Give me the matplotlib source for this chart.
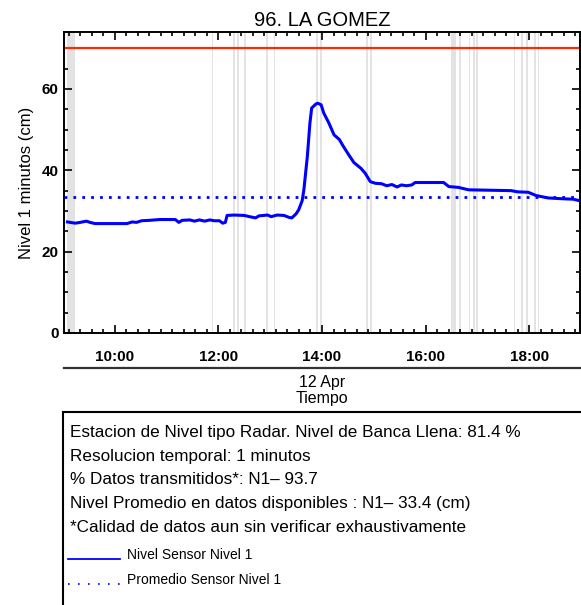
import numpy as np
import matplotlib
matplotlib.use('Agg')
import matplotlib.pyplot as plt
from matplotlib.ticker import MultipleLocator, AutoMinorLocator, FuncFormatter
from matplotlib.lines import Line2D
from matplotlib.patches import Rectangle

plt.rcParams['font.family'] = ['Liberation Sans', 'DejaVu Sans']

# nivel sensor 1 (hora, cm)
hora = ['09:05', '09:14', '09:20', '09:27', '09:31', '09:37', '09:54', '10:14', '10:20', '10:25',
        '10:31', '10:40', '10:52', '11:10', '11:14', '11:18', '11:27', '11:32', '11:38', '11:44',
        '11:50', '11:55', '12:01', '12:05', '12:08', '12:10', '12:18', '12:30', '12:36', '12:43',
        '12:47', '12:57', '13:01', '13:08', '13:16', '13:22', '13:25', '13:30', '13:33', '13:37',
        '13:39', '13:43', '13:46', '13:48', '13:53', '13:55', '13:59', '14:02', '14:08', '14:14',
        '14:20', '14:25', '14:31', '14:37', '14:45', '14:50', '14:56', '15:02', '15:09', '15:15',
        '15:21', '15:27', '15:32', '15:38', '15:44', '15:48', '16:21', '16:27', '16:38', '16:50',
        '17:39', '17:47', '17:59', '18:08', '18:22', '18:39', '18:51', '18:57']
nivel = [27.3, 27.0, 27.2, 27.5, 27.2, 26.9, 26.9, 26.9, 27.3, 27.2,
         27.6, 27.7, 27.9, 27.9, 27.2, 27.7, 27.8, 27.5, 27.8, 27.5,
         27.8, 27.6, 27.6, 27.0, 27.2, 28.9, 29.0, 28.9, 28.6, 28.3,
         28.8, 29.0, 28.6, 29.0, 28.9, 28.4, 28.3, 29.3, 30.3, 32.5,
         35.2, 43.4, 51.6, 55.3, 56.3, 56.5, 56.1, 54.1, 51.6, 48.7,
         47.6, 45.8, 43.8, 41.9, 40.5, 39.3, 37.2, 36.8, 36.7, 36.2,
         36.5, 35.9, 36.4, 36.2, 36.4, 37.0, 37.0, 36.0, 35.8, 35.2,
         35.0, 34.7, 34.6, 33.8, 33.2, 33.0, 32.9, 32.6]

promedio = 33.4
banca_llena = 70

# huecos sin datos (inicio, fin)
huecos = [('09:04', '09:14'), ('11:52', '11:54'), ('12:17', '12:19'), ('12:22', '12:24'),
          ('12:30', '12:32'), ('12:55', '12:57'), ('13:04', '13:06'), ('13:53', '13:55'),
          ('13:58', '14:00'), ('14:51', '14:53'), ('14:56', '14:58'), ('16:29', '16:35'),
          ('16:39', '16:41'), ('16:50', '16:52'), ('16:55', '16:57'), ('16:59', '17:01'),
          ('17:42', '17:44'), ('17:51', '17:53'), ('17:56', '17:59'), ('18:06', '18:08'),
          ('18:10', '18:12')]

textos = ['Estacion de Nivel tipo Radar. Nivel de Banca Llena: 81.4 %',
          'Resolucion temporal: 1 minutos',
          '% Datos transmitidos*: N1\u2013 93.7',
          'Nivel Promedio en datos disponibles : N1\u2013 33.4 (cm)',
          '*Calidad de datos aun sin verificar exhaustivamente']


def a_horas(s):
    h, m = s.split(':')
    return int(h) + int(m) / 60.0


t = np.array([a_horas(s) for s in hora])

W, H = 581, 605
fig = plt.figure(figsize=(W / 100, H / 100), dpi=100)
ax = fig.add_axes([64 / W, 1 - 333 / H, 516 / W, 301 / H])

for a, b in huecos:
    ax.axvspan(a_horas(a), a_horas(b), color='#e3e3e3', lw=0, zorder=0)

ax.axhline(banca_llena, color='#ff2a00', lw=1.6, zorder=2)
ax.axhline(promedio, color='#0000ff', lw=2.0, ls=(0, (1, 2.2)), zorder=3)
ax.plot(t, nivel, color='#0000ff', lw=2.2, zorder=4)

ax.set_xlim(a_horas('09:01'), a_horas('18:59'))
ax.set_ylim(0, 74)
ax.xaxis.set_major_locator(MultipleLocator(2))
ax.xaxis.set_minor_locator(AutoMinorLocator(9))
ax.xaxis.set_major_formatter(FuncFormatter(lambda v, p: '%d:00' % int(round(v))))
ax.yaxis.set_major_locator(MultipleLocator(20))
ax.yaxis.set_minor_locator(AutoMinorLocator(4))
ax.tick_params(which='both', direction='in', top=True, right=True, width=1.2)
ax.tick_params(which='major', length=6, labelsize=11, pad=12)
ax.tick_params(which='minor', length=3)
ax.tick_params(axis='y', pad=4)
for lab in ax.get_xticklabels() + ax.get_yticklabels():
    lab.set_fontweight('bold')
for sp in ax.spines.values():
    sp.set_linewidth(1.4)

ax.set_title('96. LA GOMEZ', fontsize=14.5, pad=4)
ax.set_ylabel('Nivel 1 minutos (cm)', fontsize=12, labelpad=5)

# eje inferior de fecha
fig.add_artist(Line2D([64 / W, 580 / W], [1 - 368 / H] * 2, color='#333333', lw=1.6))
fig.text(322 / W, 1 - 382 / H, '12 Apr', ha='center', va='center', fontsize=11.5)
fig.text(322 / W, 1 - 399 / H, 'Tiempo', ha='center', va='center', fontsize=11.5)

# caja de texto
fig.add_artist(Rectangle((63 / W, -0.05), 1.0, 0.05 + (1 - 412 / H), transform=fig.transFigure,
                         fill=False, edgecolor='black', lw=1.5))
ys = [433, 456.5, 480, 503.5, 527]
for s, y in zip(textos, ys):
    fig.text(70 / W, 1 - y / H, s, ha='left', va='center', fontsize=12.3)

fig.add_artist(Line2D([68 / W, 120 / W], [1 - 559 / H] * 2, color='#0000ff', lw=1.3))
fig.text(127 / W, 1 - 555 / H, 'Nivel Sensor Nivel 1', ha='left', va='center', fontsize=10)
fig.add_artist(Line2D([68 / W, 120 / W], [1 - 584 / H] * 2, color='#0000ff', lw=1.2,
                      ls=(0, (1, 5))))
fig.text(127 / W, 1 - 580 / H, 'Promedio Sensor Nivel 1', ha='left', va='center', fontsize=10)

fig.savefig('out.png', dpi=100)
